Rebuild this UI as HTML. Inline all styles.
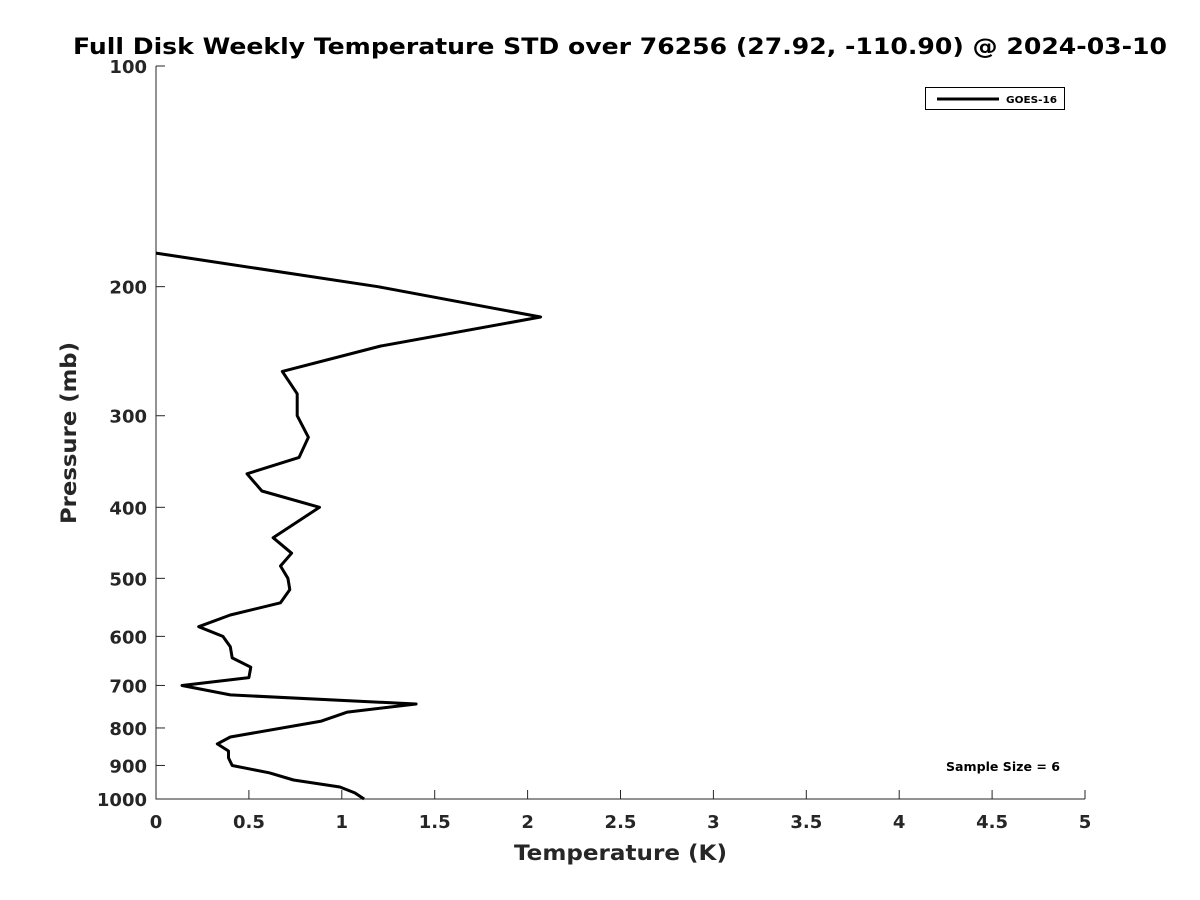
<!DOCTYPE html>
<html><head><meta charset="utf-8">
<style>
body{margin:0;background:#fff;}
svg{display:block;font-family:"DejaVu Sans","Liberation Sans",sans-serif;}
</style></head>
<body>
<svg id="chart" width="1200" height="900" viewBox="0 0 1200 900">
<rect width="1200" height="900" fill="#fff"/>
<text x="73" y="54" font-size="22" font-weight="bold" fill="#000" textLength="1094" lengthAdjust="spacingAndGlyphs">Full Disk Weekly Temperature STD over 76256 (27.92, -110.90) @ 2024-03-10</text>
<g id="axes"></g>
<path id="line" fill="none" stroke="#000" stroke-width="3" stroke-linejoin="round"/>
<g>
<rect x="925.5" y="87.5" width="139" height="22" fill="#fff" stroke="#000" stroke-width="1"/>
<line x1="937" y1="99" x2="999" y2="99" stroke="#000" stroke-width="3"/>
<text x="1006" y="103" font-size="10" font-weight="bold" textLength="51" lengthAdjust="spacingAndGlyphs">GOES-16</text>
</g>
<text x="946" y="771" font-size="12" font-weight="bold" textLength="114" lengthAdjust="spacingAndGlyphs">Sample Size = 6</text>
<text x="514" y="860" font-size="21" font-weight="bold" fill="#262626" textLength="213" lengthAdjust="spacingAndGlyphs">Temperature (K)</text>
<text transform="translate(76,524) rotate(-90)" font-size="21" font-weight="bold" fill="#262626" textLength="182" lengthAdjust="spacingAndGlyphs">Pressure (mb)</text>
</svg>
<script>
const temps = [0,1.195,2.07,1.21,0.68,0.76,0.76,0.82,0.77,0.49,0.57,0.88,0.63,0.73,0.67,0.71,0.72,0.67,0.40,0.23,0.36,0.40,0.41,0.51,0.50,0.14,0.40,1.40,1.03,0.89,0.40,0.33,0.39,0.39,0.41,0.61,0.74,0.99,1.07,1.12];
const pressures = [180,200,220,241,261,280,300,321,342,360,380,400,440,462,481,500,518,540,561,582,600,620,642,661,683,700,721,742,761,783,823,841,860,879,900,921,942,963,981,1000];
const xTicks = [0,0.5,1,1.5,2,2.5,3,3.5,4,4.5,5];
const xTickLabels = ["0","0.5","1","1.5","2","2.5","3","3.5","4","4.5","5"];
const yTicks = [100,200,300,400,500,600,700,800,900,1000];
const yTickLabels = ["100","200","300","400","500","600","700","800","900","1000"];

const X0=156,X1=1085,Y0=66,Y1=799;
function xs(v){return X0+(v-0)/(5-0)*(X1-X0);}
function ys(p){return Y0+(Math.log10(p)-2)/(3-2)*(Y1-Y0);}
const NS="http://www.w3.org/2000/svg";
const axes=document.getElementById('axes');
function mk(tag,attrs){const e=document.createElementNS(NS,tag);for(const k in attrs)e.setAttribute(k,attrs[k]);return e;}
const ax=mk('path',{d:`M${X0},${Y0}V${Y1}H${X1}`,fill:'none',stroke:'#262626','stroke-width':1});


axes.appendChild(ax);
xTicks.forEach((t,i)=>{
  const x=xs(t);
  const l=mk('line',{x1:x,y1:Y1,x2:x,y2:Y1-9,stroke:'#262626','stroke-width':1});
  
  
  axes.appendChild(l);
  const tx=mk('text',{x:x,y:Y1+29,'text-anchor':'middle','font-size':18,'font-weight':'bold',fill:'#262626'});
  tx.textContent=xTickLabels[i];
  
  
  axes.appendChild(tx);
});
yTicks.forEach((t,i)=>{
  const y=ys(t);
  const l=mk('line',{x1:X0,y1:y,x2:X0+9,y2:y,stroke:'#262626','stroke-width':1});
  
  
  axes.appendChild(l);
  const tx=mk('text',{x:X0-9,y:y+7,'text-anchor':'end','font-size':18,'font-weight':'bold',fill:'#262626'});
  tx.textContent=yTickLabels[i];
  
  
  axes.appendChild(tx);
});
let d='';
temps.forEach((t,i)=>{d+=(i?'L':'M')+xs(t).toFixed(1)+','+ys(pressures[i]).toFixed(1);});
document.getElementById('line').setAttribute('d',d);
</script>
</body></html>
